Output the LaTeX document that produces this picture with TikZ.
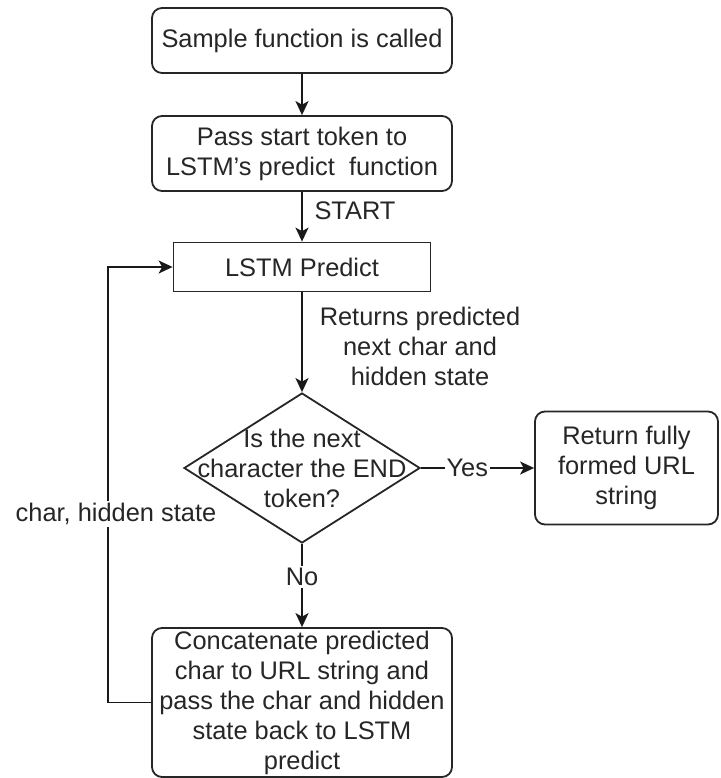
\documentclass[tikz,border=0pt]{standalone}
\usepackage{fontspec}
\setmainfont{Liberation Sans}
\usetikzlibrary{shapes.geometric,arrows.meta}
\begin{document}
\begin{tikzpicture}[x=0.5pt,y=-0.5pt,
  every node/.style={font=\fontsize{12.7pt}{15pt}\selectfont, text=black!85, align=center, inner sep=0pt},
  roundbox/.style={draw=black!85, line width=0.9pt, rounded corners=5pt},
  sqbox/.style={draw=black!85, line width=0.9pt},
  decision/.style={draw=black!85, line width=0.9pt, diamond, minimum width=118pt, minimum height=75pt},
  arr/.style={draw=black!90, line width=0.9pt, -{Stealth[length=7pt,width=6.5pt,inset=1.8pt]}},
  lbl/.style={fill=white, inner sep=1pt}
]
\useasboundingbox (0,0) rectangle (720,778);
\node[roundbox, minimum width=150pt, minimum height=32.5pt] (n1) at (302,40.5) {Sample function is called};
\node[roundbox, minimum width=150pt, minimum height=37.5pt] (n2) at (302,153.5) {Pass start token to\\LSTM's predict\ \ function};
\node[sqbox, minimum width=128.5pt, minimum height=24.5pt] (lstm) at (302,267) {LSTM Predict};
\node[decision] (dec) at (302,468) {};
\node (dectext) at (dec.center) {Is the next\\character the END\\token?};
\node[roundbox, minimum width=91.5pt, minimum height=56.5pt] (ret) at (626.5,468) {Return fully\\formed URL\\string};
\node[roundbox, minimum width=150pt, minimum height=74.5pt] (bot) at (302,702.5) {Concatenate predicted\\char to URL string and\\pass the char and hidden\\state back to LSTM\\predict};
\coordinate (loopx) at (108,0);

\draw[arr] (n1.south) -- (n2.north);
\draw[arr] (n2.south) -- (lstm.north);
\node (start) at (355,211) {START};
\draw[arr] (lstm.south) -- (dec.north);
\node (ret_lbl) at (420,346) {Returns predicted\\next char and\\hidden state};
\draw[arr] (dec.east) -- node[lbl, pos=0.41] (yes) {Yes} (ret.west);
\draw[arr] (dec.south) -- node[lbl, pos=0.4] (no) {No} (bot.north);
\draw[arr] (bot.west) -- (loopx |- bot.west) -- (loopx |- lstm.west) -- (lstm.west);
\node[lbl] (loopl) at (116,514) {char, hidden state};
\end{tikzpicture}
\end{document}
